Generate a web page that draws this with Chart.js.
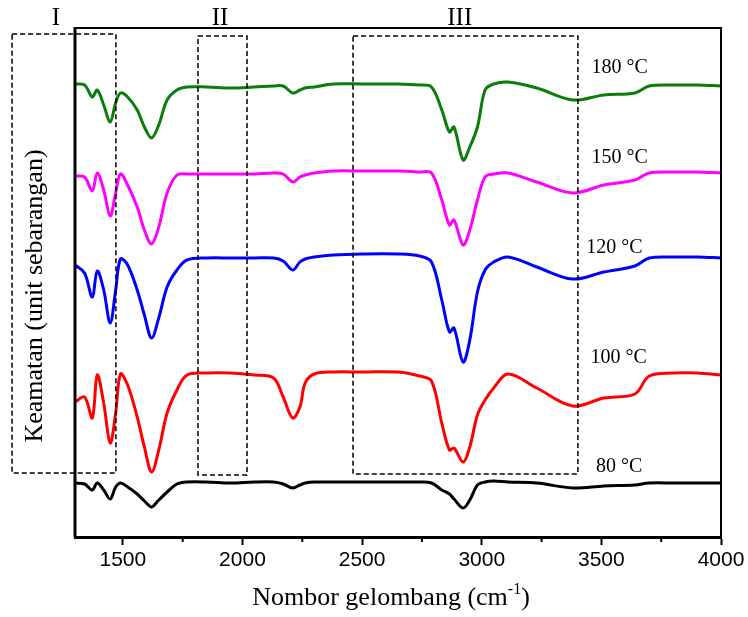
<!DOCTYPE html>
<html>
<head>
<meta charset="utf-8">
<script src="https://cdn.jsdelivr.net/npm/chart.js@4.4.1/dist/chart.umd.min.js"></script>
<style>
  html, body { margin: 0; padding: 0; background: #fff; }
  #wrap { width: 748px; height: 617px; position: relative; }
</style>
</head>
<body>
<div id="wrap"><canvas id="ftir"></canvas></div>
<script>
// --- data (intensity in arbitrary units) ---
const WAVENUMBER = [1300, 1340, 1372, 1393, 1420, 1447, 1470, 1490, 1520, 1560, 1590, 1620, 1650, 1685, 1726, 1768,
  1850, 1950, 2050, 2130, 2170, 2210, 2240, 2262, 2300, 2380, 2500, 2650, 2740, 2790, 2833, 2865, 2884, 2922,
  2950, 2982, 3014, 3050, 3110, 3230, 3380, 3510, 3640, 3700, 3800, 3900, 4000];

const T180 = [453, 452, 440, 447, 432, 415, 434, 444, 440, 427, 410, 399, 412, 437, 447, 450,
  450, 449, 450, 451, 451, 444, 447, 449, 450, 453, 453, 453, 452, 450, 427, 405, 410, 377,
  390, 410, 447, 453, 455, 449, 437, 442, 444, 451, 452, 452, 451];
const T150 = [361, 360, 346, 364, 347, 321, 344, 363, 352, 330, 307, 293, 310, 344, 362, 363,
  363, 363, 363, 364, 363, 355, 360, 362, 364, 366, 366, 366, 365, 364, 337, 312, 317, 292,
  307, 337, 360, 363, 364, 355, 344, 352, 357, 364, 365, 365, 364];
const T120 = [272, 264, 240, 266, 247, 214, 247, 278, 272, 247, 222, 199, 219, 250, 267, 277,
  279, 279, 279, 279, 276, 267, 275, 278, 280, 282, 283, 283, 281, 275, 237, 205, 209, 175,
  197, 245, 267, 275, 280, 270, 258, 265, 271, 279, 280, 280, 279];
const T100 = [135, 140, 119, 162, 134, 94, 124, 163, 152, 120, 90, 65, 87, 124, 147, 162,
  164, 164, 162, 159, 140, 119, 130, 154, 163, 165, 165, 165, 161, 156, 114, 87, 89, 75,
  90, 122, 137, 149, 163, 149, 131, 139, 143, 161, 164, 164, 162];
const T80 = [54, 53, 47, 54, 47, 38, 50, 54, 50, 43, 36, 30, 37, 45, 53, 55,
  55, 54, 55, 55, 53, 49, 52, 54, 55, 55, 55, 55, 55, 54, 47, 43, 38, 29,
  37, 52, 55, 56, 55, 54, 49, 51, 52, 54, 54, 54, 54];

const SERIES_LABELS = ['180 °C', '150 °C', '120 °C', '100 °C', '80 °C'];
const SERIES_COLORS = ['#0b7d0b', '#ff00ff', '#0000ff', '#ff0000', '#000000'];
const SERIES_DATA = [T180, T150, T120, T100, T80];
// where each temperature label sits: [wavenumber, intensity]
const LABEL_POS = [[3577, 464], [3577, 374], [3555, 284], [3572, 174], [3574, 65]];

const MAJOR_TICKS = [1500, 2000, 2500, 3000, 3500, 4000];
const MINOR_TICKS = [1750, 2250, 2750, 3250, 3750];

// dashed regions: [name, from, to, low, high, name x]
const REGIONS = [
  ['I', 1037, 1471, 64, 503, 1220],
  ['II', 1814, 2019, 62, 501, 1906],
  ['III', 2462, 3402, 63, 501, 2908],
];

const SERIF = '"Liberation Serif", "Times New Roman", serif';

const extras = {
  id: 'extras',
  afterDraw(chart) {
    const { ctx, chartArea: a, scales: { x, y } } = chart;
    ctx.save();
    // frame
    ctx.strokeStyle = '#000';
    ctx.lineWidth = 2;
    ctx.beginPath();
    ctx.moveTo(a.left, a.top); ctx.lineTo(a.right, a.top); ctx.lineTo(a.right, a.bottom);
    ctx.stroke();
    ctx.lineWidth = 3;
    ctx.beginPath();
    ctx.moveTo(a.left, a.top - 1); ctx.lineTo(a.left, a.bottom);
    ctx.stroke();

    // minor ticks
    ctx.lineWidth = 2;
    MINOR_TICKS.forEach(v => {
      const px = x.getPixelForValue(v);
      ctx.beginPath(); ctx.moveTo(px, a.bottom); ctx.lineTo(px, a.bottom + 5); ctx.stroke();
    });

    // dashed boxes
    ctx.lineWidth = 1.5;
    ctx.setLineDash([5, 3]);
    REGIONS.forEach(r => {
      const x0 = x.getPixelForValue(r[1]), x1 = x.getPixelForValue(r[2]);
      const y0 = y.getPixelForValue(r[4]), y1 = y.getPixelForValue(r[3]);
      ctx.strokeRect(x0, y0, x1 - x0, y1 - y0);
    });
    ctx.setLineDash([]);

    ctx.fillStyle = '#000';
    ctx.textAlign = 'center';
    ctx.textBaseline = 'alphabetic';
    ctx.font = '25px ' + SERIF;
    REGIONS.forEach(r => ctx.fillText(r[0], x.getPixelForValue(r[5]), 25));

    // temperature labels
    ctx.font = '20px ' + SERIF;
    SERIES_LABELS.forEach((t, i) => {
      ctx.fillText(t, x.getPixelForValue(LABEL_POS[i][0]), y.getPixelForValue(LABEL_POS[i][1]));
    });

    // x title with superscript
    const big = '26px ' + SERIF, small = '16px ' + SERIF;
    const p1 = 'Nombor gelombang (cm', p2 = '-1', p3 = ')';
    ctx.font = big; const w1 = ctx.measureText(p1).width, w3 = ctx.measureText(p3).width;
    ctx.font = small; const w2 = ctx.measureText(p2).width;
    let sx = 391 - (w1 + w2 + w3) / 2;
    ctx.textAlign = 'left';
    ctx.font = big; ctx.fillText(p1, sx, 605);
    ctx.font = small; ctx.fillText(p2, sx + w1, 594);
    ctx.font = big; ctx.fillText(p3, sx + w1 + w2, 605);

    // y title
    ctx.translate(42, 296);
    ctx.rotate(-Math.PI / 2);
    ctx.textAlign = 'center';
    ctx.font = big;
    ctx.fillText('Keamatan (unit sebarangan)', 0, 0);
    ctx.restore();
  }
};

new Chart(document.getElementById('ftir'), {
  type: 'line',
  data: {
    labels: WAVENUMBER,
    datasets: SERIES_DATA.map((d, i) => ({
      label: SERIES_LABELS[i],
      data: d.map((v, j) => ({ x: WAVENUMBER[j], y: v })),
      borderColor: SERIES_COLORS[i],
      borderWidth: 3,
      pointRadius: 0,
      tension: 0.35,
      fill: false,
    }))
  },
  options: {
    responsive: true,
    maintainAspectRatio: false,
    animation: false,
    layout: { padding: { left: 75, right: 27, top: 28, bottom: 0 } },
    plugins: { legend: { display: false }, tooltip: { enabled: false } },
    scales: {
      x: {
        type: 'linear',
        min: 1300, max: 4000,
        afterBuildTicks: s => { s.ticks = MAJOR_TICKS.map(v => ({ value: v })); },
        afterFit: s => { s.height = 80; },
        grid: { drawOnChartArea: false, tickLength: 8, tickWidth: 2, tickColor: '#000' },
        border: { color: '#000', width: 3 },
        ticks: {
          color: '#000', padding: 3,
          font: { family: '"Liberation Sans", Arial, sans-serif', size: 21 },
          maxRotation: 0, autoSkip: false,
          callback: v => String(v),
        },
      },
      y: { display: false, min: 0, max: 509 },
    }
  },
  plugins: [extras]
});
</script>
</body>
</html>
